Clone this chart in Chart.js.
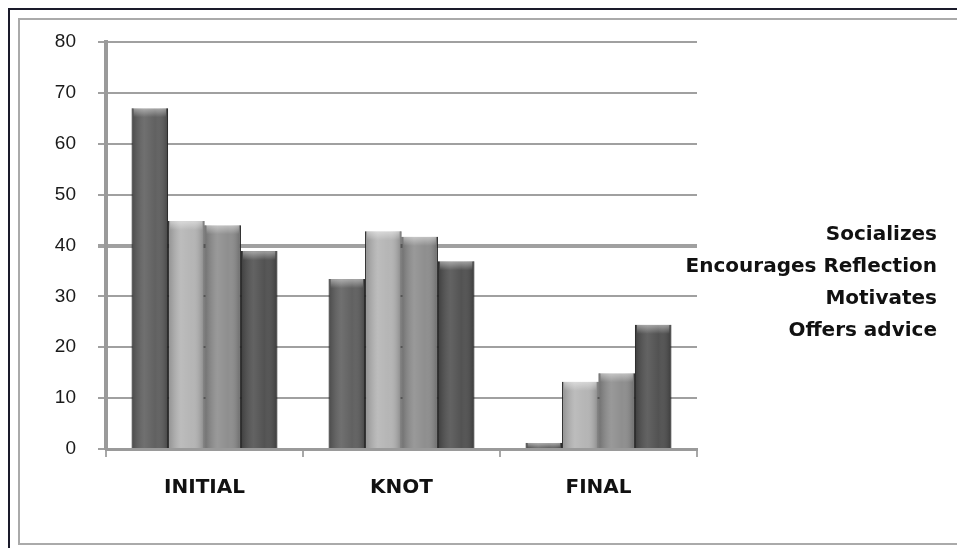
<!DOCTYPE html>
<html>
<head>
<meta charset="utf-8">
<script src="https://cdn.jsdelivr.net/npm/chart.js@4.4.1/dist/chart.umd.min.js"></script>
<style>
    html, body { margin: 0; padding: 0; background: #fff; }
    #wrap { position: relative; width: 957px; height: 548px; overflow: hidden; }
    #outer { position: absolute; left: 8px; top: 8px; width: 1000px; height: 600px; border: 2px solid #1a1a2a; }
    #inner { position: absolute; left: 18px; top: 18px; width: 1000px; height: 523px; border: 2px solid #aaa; }
    #chart { position: absolute; left: 0; top: 0; }
    #legend { position: absolute; right: 20px; top: 217px; text-align: right;
              font: bold 20px "DejaVu Sans", sans-serif; line-height: 32px; color: #111; }
</style>
</head>
<body>
<div id="wrap">
    <div id="outer"></div>
    <div id="inner"></div>
    <canvas id="chart" width="957" height="548"></canvas>
    <div id="legend"></div>
</div>
<script>
const categories = ["INITIAL", "KNOT", "FINAL"];
const seriesNames = ["Socializes", "Encourages Reflection", "Motivates", "Offers advice"];
const socializes = [67, 33.4, 1.2];
const encourages = [44.8, 42.8, 13.2];
const motivates = [44, 41.7, 14.9];
const offersAdvice = [38.9, 36.9, 24.4];
const yTicks = [0, 10, 20, 30, 40, 50, 60, 70, 80];

const barColors = ["#5c5c5c", "#b3b3b3", "#8b8b8b", "#4d4d4d"];
const seriesValues = [socializes, encourages, motivates, offersAdvice];

// legend is just right-aligned text, no swatches
document.getElementById("legend").innerHTML = seriesNames.map((n) => "<div>" + n + "</div>").join("");

// soft cylinder shading over each bar, plus a lighter cap on top
const shading = {
    id: "shading",
    afterDatasetsDraw(chart) {
        const ctx = chart.ctx;
        chart.data.datasets.forEach((ds, i) => {
            chart.getDatasetMeta(i).data.forEach((bar) => {
                const left = bar.x - bar.width / 2;
                const top = bar.y;
                const h = bar.base - bar.y;
                if (h <= 0) return;
                const g = ctx.createLinearGradient(left, 0, left + bar.width, 0);
                g.addColorStop(0, "rgba(0,0,0,0.2)");
                g.addColorStop(0.35, "rgba(255,255,255,0.12)");
                g.addColorStop(0.65, "rgba(255,255,255,0.03)");
                g.addColorStop(1, "rgba(0,0,0,0.25)");
                ctx.save();
                ctx.fillStyle = g;
                ctx.fillRect(left, top, bar.width, h);
                const capH = Math.min(9, h);
                const cg = ctx.createLinearGradient(0, top, 0, top + capH);
                cg.addColorStop(0, "rgba(255,255,255,0.45)");
                cg.addColorStop(1, "rgba(255,255,255,0)");
                ctx.fillStyle = cg;
                ctx.fillRect(left + 2, top, bar.width - 4, capH);
                ctx.restore();
            });
        });
    },
};

new Chart(document.getElementById("chart"), {
    type: "bar",
    data: {
        labels: categories,
        datasets: seriesNames.map((name, i) => ({
            label: name,
            data: seriesValues[i],
            backgroundColor: barColors[i],
            borderColor: "#2a2a2a",
            borderWidth: { left: 1, right: 1, top: 0, bottom: 0 },
            categoryPercentage: 0.74,
            barPercentage: 1.0,
        })),
    },
    options: {
        responsive: false,
        animation: false,
        layout: { padding: { left: 0, top: 42, right: 260, bottom: 0 } },
        plugins: {
            legend: { display: false },
            tooltip: { enabled: false },
        },
        scales: {
            x: {
                afterFit: (scale) => { scale.height = 99; },
                grid: {
                    drawOnChartArea: false,
                    color: "#a8a8a8",
                    lineWidth: 2,
                    tickLength: 8,
                },
                border: { color: "#9a9a9a", width: 3 },
                ticks: {
                    padding: 19,
                    color: "#111",
                    font: { family: "DejaVu Sans", weight: "bold", size: 20 },
                },
            },
            y: {
                min: 0,
                max: 80,
                afterFit: (scale) => { scale.width = 106; },
                afterBuildTicks: (scale) => { scale.ticks = yTicks.map((v) => ({ value: v })); },
                grid: {
                    color: "#a0a0a0",
                    lineWidth: (c) => (c.tick && c.tick.value === 40 ? 4 : 2),
                    tickLength: 8,
                },
                border: { color: "#9a9a9a", width: 4 },
                ticks: {
                    padding: 22,
                    color: "#1a1a1a",
                    font: { family: "Liberation Sans", size: 19 },
                },
            },
        },
    },
    plugins: [shading],
});
</script>
</body>
</html>
